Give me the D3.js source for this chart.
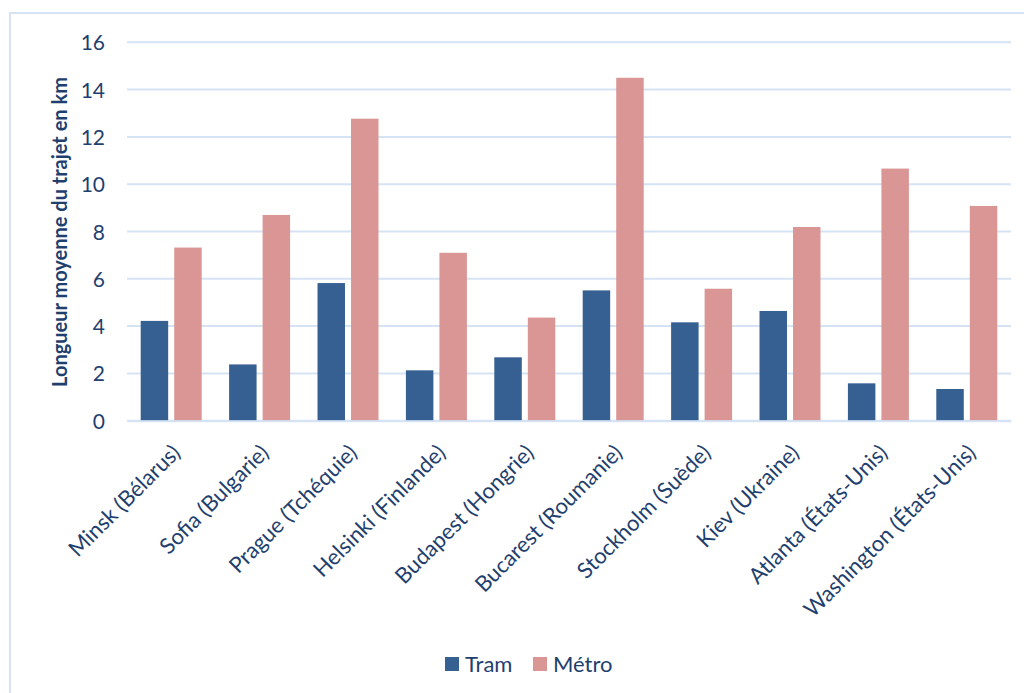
<!DOCTYPE html>
<html>
<head>
<meta charset="utf-8">
<script src="https://cdnjs.cloudflare.com/ajax/libs/d3/7.8.5/d3.min.js"></script>
<style>
	body { margin: 0; background: #fff; }
	svg { display: block; font-family: Lato, "Open Sans", sans-serif; }
</style>
</head>
<body>
<svg id="chart" width="1024" height="693"></svg>
<script>
// data
var cities = ["Minsk (Bélarus)", "Sofia (Bulgarie)", "Prague (Tchéquie)", "Helsinki (Finlande)",
	"Budapest (Hongrie)", "Bucarest (Roumanie)", "Stockholm (Suède)", "Kiev (Ukraine)",
	"Atlanta (États-Unis)", "Washington (États-Unis)"];
var tram = [4.22, 2.38, 5.82, 2.13, 2.68, 5.51, 4.16, 4.64, 1.58, 1.34];
var metro = [7.32, 8.70, 12.77, 7.10, 4.36, 14.50, 5.58, 8.19, 10.66, 9.08];
var seriesNames = ["Tram", "Métro"];
var yTicks = [0, 2, 4, 6, 8, 10, 12, 14, 16];
var yTitle = "Longueur moyenne du trajet en km";

var colors = {"Tram": "#376092", "Métro": "#D99694"};
var textColor = "#1F3F6E";
var gridColor = "#D6E3F4";

var svg = d3.select("#chart");

// chart area frame
svg.append("rect")
	.attr("x", 10).attr("y", 13)
	.attr("width", 1040).attr("height", 720)
	.attr("fill", "none")
	.attr("stroke", gridColor)
	.attr("stroke-width", 2);

var plotLeft = 127, plotRight = 1011, plotTop = 42.3, plotBottom = 420.7;

var x0 = d3.scaleBand().domain(cities).range([plotLeft, plotRight])
	.paddingInner(0.31).paddingOuter(0.155);
var x1 = d3.scaleBand().domain(seriesNames).range([0, x0.bandwidth()]).paddingInner(0.18);
var y = d3.scaleLinear().domain([0, 16]).range([plotBottom, plotTop]);

var rows = cities.map(function(c, i) {
	return {city: c, values: [{key: "Tram", v: tram[i]}, {key: "Métro", v: metro[i]}]};
});

// gridlines
svg.append("g")
	.selectAll("line")
	.data(yTicks)
	.enter().append("line")
	.attr("x1", plotLeft).attr("x2", plotRight)
	.attr("y1", function(d) { return y(d); })
	.attr("y2", function(d) { return y(d); })
	.attr("stroke", gridColor)
	.attr("stroke-width", 2);

// y axis
var yAxis = svg.append("g")
	.attr("transform", "translate(" + (plotLeft - 22) + ",0)")
	.call(d3.axisLeft(y).tickValues(yTicks).tickSize(0).tickPadding(0));
yAxis.select(".domain").remove();
yAxis.selectAll("text")
	.attr("fill", textColor)
	.attr("font-size", 21)
	.attr("font-family", "Lato, sans-serif")
	.attr("dy", "0.36em");

svg.append("text")
	.attr("transform", "translate(67,232) rotate(-90)")
	.attr("text-anchor", "middle")
	.attr("fill", textColor)
	.attr("font-size", 20)
	.attr("font-weight", "bold")
	.text(yTitle);

// bars
var groups = svg.append("g")
	.selectAll("g")
	.data(rows)
	.enter().append("g")
	.attr("transform", function(d) { return "translate(" + x0(d.city) + ",0)"; });

groups.selectAll("rect")
	.data(function(d) { return d.values; })
	.enter().append("rect")
	.attr("x", function(d) { return x1(d.key); })
	.attr("y", function(d) { return y(d.v); })
	.attr("width", x1.bandwidth())
	.attr("height", function(d) { return y(0) - y(d.v); })
	.attr("fill", function(d) { return colors[d.key]; });

// x axis
var xAxis = svg.append("g")
	.attr("transform", "translate(0," + plotBottom + ")")
	.call(d3.axisBottom(x0).tickSize(0).tickPadding(0));
xAxis.select(".domain")
	.attr("stroke", gridColor)
	.attr("stroke-width", 2);
xAxis.selectAll("text")
	.attr("fill", textColor)
	.attr("font-size", 22)
	.attr("font-family", "Lato, sans-serif")
	.attr("text-anchor", "end")
	.attr("dy", "0.35em")
	.attr("transform", "translate(5,28) rotate(-45)")
	.attr("x", 0).attr("y", 0);

// legend
var legend = svg.append("g").attr("transform", "translate(445,657)");
var items = legend.selectAll("g")
	.data(seriesNames)
	.enter().append("g")
	.attr("transform", function(d, i) { return "translate(" + (i * 88) + ",0)"; });
items.append("rect")
	.attr("width", 14).attr("height", 14)
	.attr("fill", function(d) { return colors[d]; });
items.append("text")
	.attr("x", 20).attr("y", 7)
	.attr("dy", "0.36em")
	.attr("fill", textColor)
	.attr("font-size", 22)
	.text(function(d) { return d; });
</script>
</body>
</html>
